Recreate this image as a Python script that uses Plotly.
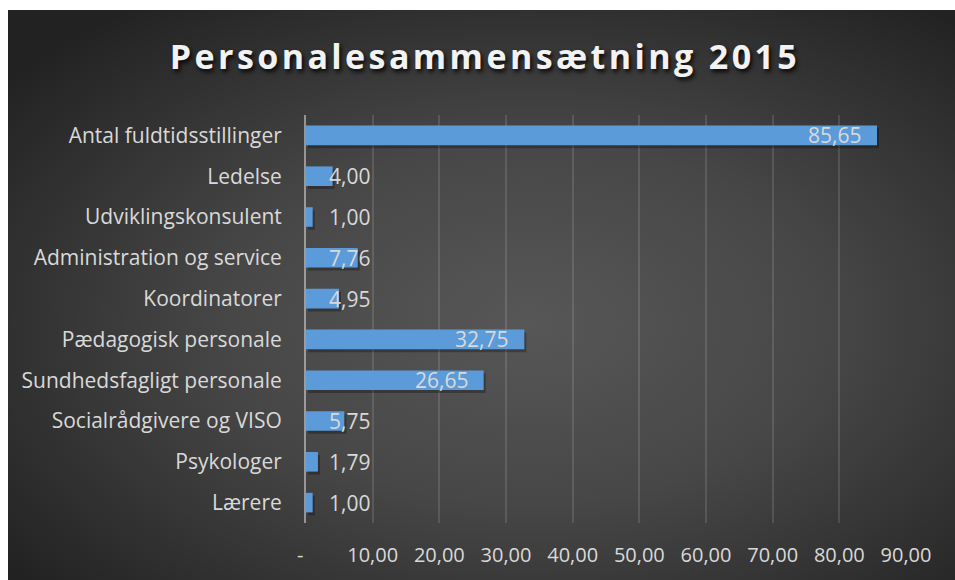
import base64
import plotly.graph_objects as go

# data
categories = [
    "Antal fuldtidsstillinger",
    "Ledelse",
    "Udviklingskonsulent",
    "Administration og service",
    "Koordinatorer",
    "Pædagogisk personale",
    "Sundhedsfagligt personale",
    "Socialrådgivere og VISO",
    "Psykologer",
    "Lærere",
]
values = [85.65, 4.00, 1.00, 7.76, 4.95, 32.75, 26.65, 5.75, 1.79, 1.00]
tick_vals = [0, 10, 20, 30, 40, 50, 60, 70, 80, 90]
# accounting style: zero shown as a dash with trailing space
tick_text = ["-\u2007"] + [f"{v:.2f}".replace(".", ",") for v in tick_vals[1:]]

W, H = 955, 580
ML, MR, MT, MB = 306, 49, 115, 57
FONT = "Open Sans"
TXT = "#d9d9d9"
BAR_W = 0.48

# dark radial background as an svg image
svg = f"""<svg xmlns="http://www.w3.org/2000/svg" width="{W}" height="{H}" viewBox="0 0 {W} {H}" preserveAspectRatio="none">
<defs><radialGradient id="g" cx="55%" cy="55%" r="70%">
<stop offset="0" stop-color="#575757"/><stop offset="0.45" stop-color="#474747"/><stop offset="1" stop-color="#222222"/>
</radialGradient></defs>
<rect width="{W}" height="{H}" fill="#ffffff"/>
<rect x="8" y="10" width="{W-8}" height="{H-10}" fill="url(#g)"/>
</svg>"""
bg_src = "data:image/svg+xml;base64," + base64.b64encode(svg.encode()).decode()

pw, ph = W - ML - MR, H - MT - MB
px_x = 90 / pw        # data units per pixel on x
px_y = 1 / (ph / len(categories))  # category units per pixel

fig = go.Figure()
# soft drop shadow under each bar
fig.add_trace(go.Bar(
    x=values, y=categories, orientation="h", base=2 * px_x,
    width=BAR_W, offset=-BAR_W / 2 + 3 * px_y,
    marker=dict(color="rgba(0,0,0,0.28)", line=dict(width=0)),
    hoverinfo="skip",
))
fig.add_trace(go.Bar(
    x=values, y=categories, orientation="h",
    marker=dict(color="#5b9bd9", line=dict(width=0)),
    width=BAR_W, hoverinfo="x+y",
))

# value labels: inside end, pushed out for the short bars
for c, v in zip(categories, values):
    fig.add_annotation(
        x=max(v, 12), y=c, xref="x", yref="y",
        text=f"{v:.2f}".replace(".", ","), showarrow=False,
        xanchor="right", xshift=-14,
        font=dict(family=FONT, size=21, color=TXT),
    )

fig.add_layout_image(
    source=bg_src, xref="paper", yref="paper",
    x=-ML / pw, y=1 + MT / ph, sizex=W / pw, sizey=H / ph,
    xanchor="left", yanchor="top", sizing="stretch", layer="below",
)

fig.update_layout(
    width=W, height=H,
    margin=dict(l=ML, r=MR, t=MT, b=MB),
    paper_bgcolor="#ffffff", plot_bgcolor="rgba(0,0,0,0)",
    showlegend=False, barmode="overlay",
    title=dict(
        text="Personalesammensætning 2015",
        x=485 / W, xanchor="center", y=1 - 57 / H, yanchor="middle",
        font=dict(family=FONT, size=34, weight=700, color="#f2f2f2",
                  shadow="2px 3px 4px rgba(0,0,0,0.85)"),
    ),
    xaxis=dict(
        range=[0, 90], tickvals=tick_vals, ticktext=tick_text,
        showgrid=True, gridcolor="rgba(255,255,255,0.12)", gridwidth=1.5,
        zeroline=False, showline=False, ticks="",
        tickfont=dict(family=FONT, size=20, color=TXT),
        ticklabelstandoff=18, fixedrange=True,
    ),
    yaxis=dict(
        autorange="reversed", showgrid=False, zeroline=False,
        showline=True, linecolor="rgba(255,255,255,0.45)", linewidth=2,
        ticks="", tickfont=dict(family=FONT, size=21, color=TXT),
        ticklabelstandoff=18, fixedrange=True,
    ),
)

# no page margin, and the letter-spaced title of the original
post = """
document.body.style.margin = '0';
document.querySelectorAll('.gtitle').forEach(function (t) { t.style.letterSpacing = '3.4px'; });
"""
fig.write_html("out.html", post_script=post, config={"displayModeBar": False})
